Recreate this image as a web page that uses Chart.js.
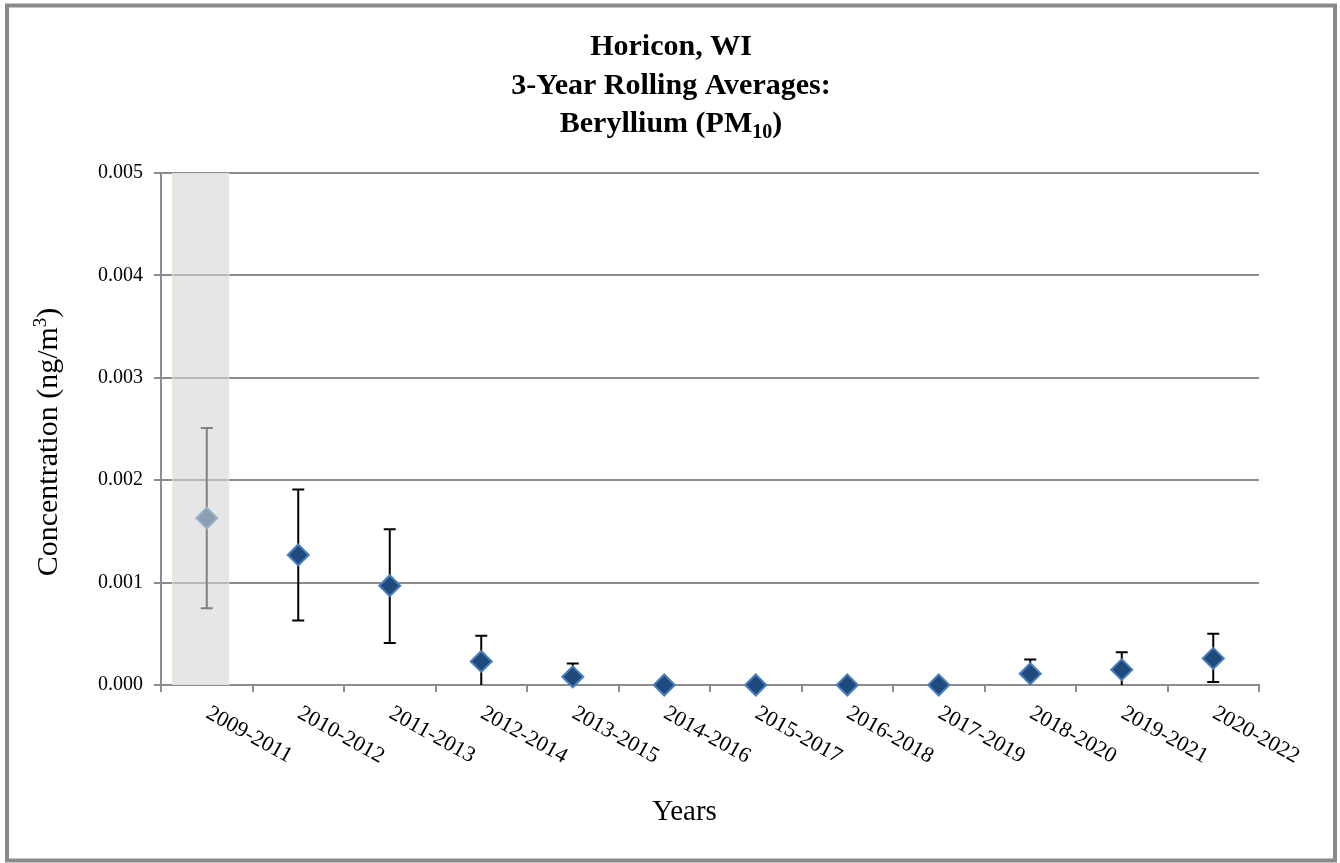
<!DOCTYPE html>
<html>
<head>
<meta charset="utf-8">
<script src="https://cdn.jsdelivr.net/npm/chart.js@4/dist/chart.umd.min.js"></script>
<style>
  html, body { margin: 0; padding: 0; background: #fff; }
  #wrap { width: 1340px; height: 863px; position: relative; }
</style>
</head>
<body>
<div id="wrap"><canvas id="c" width="1340" height="863"></canvas></div>
<script>
// Three-year rolling periods
const periods = ['2009-2011', '2010-2012', '2011-2013', '2012-2014', '2013-2015', '2014-2016',
                 '2015-2017', '2016-2018', '2017-2019', '2018-2020', '2019-2021', '2020-2022'];
// Rolling average concentration (ng/m3)
const averages = [0.00163, 0.00127, 0.00097, 0.00023, 0.00008, 0, 0, 0, 0, 0.00011, 0.00015, 0.00026];
// Confidence interval bounds (null = no interval)
const upperBounds = [0.00251, 0.00191, 0.00152, 0.00048, 0.00021, null, null, null, null, 0.00025, 0.00032, 0.00050];
const lowerBounds = [0.00075, 0.00063, 0.00041, 0, 0, null, null, null, null, 0, 0, 0.00003];
// Y axis range and step
const yMin = 0, yMax = 0.005, yStep = 0.001;
// Shaded (incomplete) period index
const shadedIndex = 0;

const titleLines = ['Horicon, WI', '3-Year Rolling Averages:'];
const titleLast = ['Beryllium (PM', '10', ')'];
const yTitle = ['Concentration (ng/m', '3', ')'];
const xTitle = 'Years';

const SERIF = '"Liberation Serif", "Times New Roman", serif';
const GRID = '#8c8c8c';

const framePlugin = {
  id: 'frame',
  beforeDraw(chart) {
    const ctx = chart.ctx;
    ctx.save();
    ctx.fillStyle = '#fff';
    ctx.fillRect(0, 0, chart.width, chart.height);
    ctx.strokeStyle = '#8a8a8a';
    ctx.lineWidth = 4;
    ctx.strokeRect(7, 5.5, chart.width - 12, chart.height - 8);
    ctx.restore();
  }
};

const errorBarPlugin = {
  id: 'errorBars',
  beforeDatasetsDraw(chart) {
    const ctx = chart.ctx, xs = chart.scales.x, ys = chart.scales.y;
    ctx.save();
    ctx.strokeStyle = '#000';
    ctx.lineWidth = 2;
    const cap = 6;
    upperBounds.forEach((u, i) => {
      if (u === null) return;
      const l = lowerBounds[i];
      const x = xs.getPixelForValue(i);
      const yu = ys.getPixelForValue(u);
      const yl = ys.getPixelForValue(l);
      ctx.beginPath();
      ctx.moveTo(x, yl);
      ctx.lineTo(x, yu);
      ctx.moveTo(x - cap, yu);
      ctx.lineTo(x + cap, yu);
      if (l > yMin) {
        ctx.moveTo(x - cap, yl);
        ctx.lineTo(x + cap, yl);
      }
      ctx.stroke();
    });
    ctx.restore();
  }
};

const shadePlugin = {
  id: 'shade',
  afterDatasetsDraw(chart) {
    const ctx = chart.ctx, xs = chart.scales.x, area = chart.chartArea;
    const w = xs.getPixelForValue(1) - xs.getPixelForValue(0);
    const cx = xs.getPixelForValue(shadedIndex);
    const x0 = cx - 0.38 * w, x1 = cx + 0.245 * w;
    ctx.save();
    ctx.fillStyle = 'rgba(214,214,214,0.6)';
    ctx.fillRect(x0, area.top, x1 - x0, area.bottom - area.top);
    ctx.strokeStyle = 'rgba(235,235,215,0.8)';
    ctx.lineWidth = 1;
    ctx.strokeRect(x0 + 0.5, area.top + 0.5, x1 - x0 - 1, area.bottom - area.top - 1);
    ctx.restore();
  }
};

// Draws a run of [normal, script, normal] text pieces; shift moves the script piece down (+) or up (-)
function drawScripted(ctx, parts, x, y, bigFont, smallFont, shift) {
  ctx.font = bigFont; const w0 = ctx.measureText(parts[0]).width;
  ctx.font = smallFont; const w1 = ctx.measureText(parts[1]).width;
  ctx.font = bigFont; const w2 = ctx.measureText(parts[2]).width;
  let cx = x - (w0 + w1 + w2) / 2;
  ctx.textAlign = 'left';
  ctx.font = bigFont; ctx.fillText(parts[0], cx, y); cx += w0;
  ctx.font = smallFont; ctx.fillText(parts[1], cx, y + shift); cx += w1;
  ctx.font = bigFont; ctx.fillText(parts[2], cx, y);
}

const textPlugin = {
  id: 'texts',
  afterDraw(chart) {
    const ctx = chart.ctx, xs = chart.scales.x, area = chart.chartArea;
    ctx.save();
    ctx.fillStyle = '#000';
    // Title
    const cx = 671;
    ctx.font = 'bold 30px ' + SERIF;
    ctx.textAlign = 'center';
    ctx.textBaseline = 'alphabetic';
    titleLines.forEach((t, i) => ctx.fillText(t, cx, 55 + i * 38.5));
    drawScripted(ctx, titleLast, cx, 55 + 2 * 38.5, 'bold 30px ' + SERIF, 'bold 20px ' + SERIF, 6);

    // Y axis title, rotated
    ctx.save();
    ctx.translate(57, 442);
    ctx.rotate(-Math.PI / 2);
    drawScripted(ctx, yTitle, 0, 0, '30px ' + SERIF, '19px ' + SERIF, -11);
    ctx.restore();

    // X axis title
    ctx.font = '29px ' + SERIF;
    ctx.textAlign = 'center';
    ctx.textBaseline = 'middle';
    ctx.fillText(xTitle, 684.5, 812);

    // Rotated category labels
    ctx.font = '22px ' + SERIF;
    ctx.textAlign = 'left';
    ctx.textBaseline = 'middle';
    periods.forEach((p, i) => {
      const px = xs.getPixelForValue(i);
      ctx.save();
      ctx.translate(px + 1, area.bottom + 27);
      ctx.rotate(29 * Math.PI / 180);
      ctx.fillText(p, 0, 0);
      ctx.restore();
    });
    ctx.restore();
  }
};

new Chart(document.getElementById('c'), {
  type: 'line',
  data: {
    labels: periods,
    datasets: [{
      data: averages,
      showLine: false,
      pointStyle: 'rectRot',
      pointRadius: 10.5,
      pointHoverRadius: 10.5,
      pointBackgroundColor: '#1f4a7e',
      pointBorderColor: '#4a7ebb',
      pointBorderWidth: 2,
      clip: false
    }]
  },
  options: {
    responsive: false,
    animation: false,
    events: [],
    layout: { padding: { top: 173, right: 81, bottom: 20, left: 0 } },
    plugins: { legend: { display: false }, tooltip: { enabled: false }, title: { display: false } },
    scales: {
      x: {
        type: 'category',
        offset: true,
        grid: { display: true, offset: true, drawOnChartArea: false, drawTicks: true, tickLength: 7, color: GRID, lineWidth: 2 },
        border: { display: true, color: GRID, width: 2 },
        ticks: { display: false },
        title: { display: false },
        afterFit(scale) { scale.height = 158; }
      },
      y: {
        min: yMin,
        max: yMax,
        grid: { color: GRID, lineWidth: 2, drawTicks: true, tickLength: 7 },
        border: { display: true, color: GRID, width: 2 },
        ticks: { stepSize: yStep, color: '#000', font: { family: SERIF, size: 20 }, padding: 11,
                 callback: v => v.toFixed(3) },
        title: { display: false },
        afterFit(scale) { scale.width = 161; }
      }
    }
  },
  plugins: [framePlugin, errorBarPlugin, shadePlugin, textPlugin]
});
</script>
</body>
</html>
